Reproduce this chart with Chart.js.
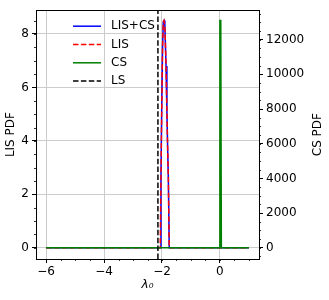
<!DOCTYPE html>
<html>
<head>
<meta charset="utf-8">
<script src="https://cdn.jsdelivr.net/npm/chart.js@4.4.1/dist/chart.umd.min.js"></script>
<style>
  html, body { margin: 0; padding: 0; background: #fff; }
  #wrap { width: 329px; height: 300px; }
</style>
</head>
<body>
<div id="wrap"><canvas id="chart" width="329" height="300"></canvas></div>
<script>
// data
const lisX = [-6, -2.06, -2.035, -2.01, -1.98, -1.955, -1.93, -1.90, -1.86, -1.83, -1.80, -1.78, -1.75, 1];
const lisY = [0, 0, 2.6, 5.1, 7.5, 8.45, 8.5, 8.3, 6.8, 5.1, 3.5, 2.6, 0, 0];
const csX = [-6, -0.02, 0.0, 0.03, 0.05, 1];
const csY = [0, 0, 13100, 13100, 0, 0];
const lsValue = -2.14;

const xTicks = [-6, -4, -2, 0];
const leftTicks = [0, 2, 4, 6, 8];
const rightTicks = [0, 2000, 4000, 6000, 8000, 10000, 12000];

const xRange = [-6.35, 1.35];
const leftRange = [-0.42, 8.89];
const rightRange = [-650, 13700];

const minorSteps = { x: 0.5, y: 0.5, y2: 500 };

const toPts = (xs, ys) => xs.map((x, i) => ({ x: x, y: ys[i] }));
const fmt = v => String(v).replace('-', '\u2212');

Chart.defaults.font.family = 'DejaVu Sans';
Chart.defaults.font.size = 12;
Chart.defaults.color = '#000';

// 小刻度、边框、图例、右轴标题
const extras = {
  id: 'extras',
  afterDraw(chart) {
    const ctx = chart.ctx;
    const area = chart.chartArea;
    ctx.save();

    // minor ticks
    ctx.strokeStyle = '#000';
    ctx.lineWidth = 0.8;
    Object.keys(minorSteps).forEach(id => {
      const s = chart.scales[id];
      const step = minorSteps[id];
      for (let v = Math.ceil(s.min / step) * step; v <= s.max; v += step) {
        const p = Math.round(s.getPixelForValue(v)) + 0.5;
        ctx.beginPath();
        if (id === 'x') { ctx.moveTo(p, area.bottom); ctx.lineTo(p, area.bottom + 2); }
        else if (id === 'y') { ctx.moveTo(area.left, p); ctx.lineTo(area.left - 2, p); }
        else { ctx.moveTo(area.right, p); ctx.lineTo(area.right + 2, p); }
        ctx.stroke();
      }
    });

    // frame
    ctx.lineWidth = 1;
    ctx.strokeRect(Math.round(area.left) + 0.5, Math.round(area.top) + 0.5,
      Math.round(area.right - area.left), Math.round(area.bottom - area.top));

    // legend
    const lx = area.left + 37;
    chart.data.datasets.forEach((ds, i) => {
      const ly = area.top + 16 + i * 18.3;
      ctx.strokeStyle = ds.borderColor;
      ctx.lineWidth = ds.borderWidth;
      ctx.setLineDash(ds.borderDash || []);
      ctx.beginPath();
      ctx.moveTo(lx, ly);
      ctx.lineTo(lx + 28, ly);
      ctx.stroke();
      ctx.setLineDash([]);
      ctx.fillStyle = '#000';
      ctx.font = '12px "DejaVu Sans"';
      ctx.textBaseline = 'middle';
      ctx.textAlign = 'left';
      ctx.fillText(ds.label, lx + 38, ly);
    });

    // right axis title, reads bottom to top like the left one
    ctx.translate(318, (area.top + area.bottom) / 2);
    ctx.rotate(-Math.PI / 2);
    ctx.textAlign = 'center';
    ctx.textBaseline = 'middle';
    ctx.fillText('CS PDF', 0, 0);
    ctx.restore();
  }
};

new Chart(document.getElementById('chart'), {
  type: 'line',
  data: {
    datasets: [
      { label: 'LIS+CS', data: toPts(lisX, lisY), yAxisID: 'y', borderColor: '#0000ff', borderWidth: 1.5, order: 3 },
      { label: 'LIS', data: toPts(lisX, lisY), yAxisID: 'y', borderColor: '#ff0000', borderWidth: 1.5, borderDash: [5.5, 2.4], order: 2 },
      { label: 'CS', data: toPts(csX, csY), yAxisID: 'y2', borderColor: '#008000', borderWidth: 1.5, order: 1 },
      { label: 'LS', data: [{ x: lsValue, y: leftRange[0] }, { x: lsValue, y: leftRange[1] }], yAxisID: 'y',
        borderColor: '#000000', borderWidth: 1.5, borderDash: [5.5, 2.4], order: 0 }
    ]
  },
  options: {
    responsive: false,
    animation: false,
    parsing: true,
    elements: { point: { radius: 0 }, line: { tension: 0 } },
    layout: { padding: { top: 7, left: 0, right: 0, bottom: 0 } },
    plugins: { legend: { display: false }, tooltip: { enabled: false } },
    scales: {
      x: {
        type: 'linear',
        min: xRange[0], max: xRange[1],
        afterFit: s => { s.height = 41; },
        afterBuildTicks: s => { s.ticks = xTicks.map(v => ({ value: v })); },
        ticks: { callback: fmt, padding: 2, maxRotation: 0 },
        grid: { color: '#cccccc', lineWidth: 1, tickColor: '#000', tickLength: 4 },
        border: { display: true, color: '#000', width: 1 },
        title: { display: true, text: 'λ₀', font: { size: 12, style: 'italic' }, padding: { top: 0, bottom: 8 } }
      },
      y: {
        position: 'left',
        min: leftRange[0], max: leftRange[1],
        afterFit: s => { s.width = 36; },
        afterBuildTicks: s => { s.ticks = leftTicks.map(v => ({ value: v })); },
        ticks: { callback: fmt, padding: 3 },
        grid: { color: '#cccccc', lineWidth: 1, tickColor: '#000', tickLength: 4 },
        border: { display: true, color: '#000', width: 1 },
        title: { display: true, text: 'LIS PDF', padding: { top: 4, bottom: 4 } }
      },
      y2: {
        position: 'right',
        min: rightRange[0], max: rightRange[1],
        afterFit: s => { s.width = 70; },
        afterBuildTicks: s => { s.ticks = rightTicks.map(v => ({ value: v })); },
        ticks: { callback: fmt, padding: 3 },
        grid: { drawOnChartArea: false, tickColor: '#000', tickLength: 4 },
        border: { display: true, color: '#000', width: 1 }
      }
    }
  },
  plugins: [extras]
});
</script>
</body>
</html>
